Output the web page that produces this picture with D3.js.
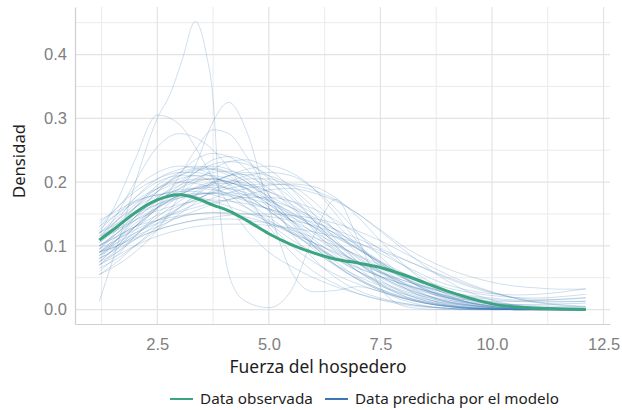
<!DOCTYPE html>
<html>
<head>
<meta charset="utf-8">
<script src="https://cdn.jsdelivr.net/npm/d3@7"></script>
<style>
  html, body { margin: 0; padding: 0; background: #ffffff; }
  svg { display: block; }
</style>
</head>
<body>
<svg id="chart" width="622" height="410"></svg>
<script>
// Shared evaluation grid for the density curves (Fuerza del hospedero)
const gridX = [1.2, 1.6, 2.0, 2.5, 3.0, 3.35, 3.75, 4.1, 4.5, 5.0, 5.5, 6.0, 6.5, 7.0, 7.5, 8.0, 8.5, 9.0, 9.5, 10.0, 10.5, 11.0, 11.5, 12.1];

// Density of the observed data
const observedY = [0.109, 0.130, 0.152, 0.172, 0.180, 0.175, 0.164, 0.155, 0.140, 0.119, 0.102, 0.089, 0.079, 0.073, 0.066, 0.055, 0.042, 0.029, 0.018, 0.009, 0.004, 0.002, 0.001, 0.000];

// Densities of datasets simulated from the model (one row per draw)
const predictedY = [
  [0.085,0.11,0.14,0.17,0.19,0.20,0.205,0.20,0.19,0.165,0.14,0.11,0.085,0.06,0.04,0.025,0.014,0.007,0.003,0.001,0,0,0,0],
  [0.12,0.145,0.17,0.19,0.20,0.198,0.19,0.18,0.16,0.135,0.11,0.09,0.07,0.052,0.037,0.025,0.016,0.01,0.006,0.003,0.001,0,0,0],
  [0.09,0.105,0.12,0.135,0.145,0.15,0.152,0.15,0.145,0.135,0.12,0.105,0.09,0.075,0.06,0.046,0.035,0.026,0.02,0.016,0.013,0.012,0.012,0.013],
  [0.075,0.1,0.13,0.16,0.18,0.19,0.195,0.19,0.178,0.155,0.13,0.105,0.08,0.06,0.042,0.028,0.017,0.009,0.004,0.002,0.001,0,0,0],
  [0.13,0.16,0.19,0.215,0.225,0.222,0.21,0.195,0.17,0.135,0.1,0.075,0.055,0.04,0.028,0.018,0.01,0.005,0.002,0.001,0,0,0,0],
  [0.1,0.12,0.14,0.16,0.175,0.18,0.183,0.18,0.175,0.165,0.15,0.13,0.105,0.08,0.057,0.038,0.023,0.013,0.007,0.003,0.001,0,0,0],
  [0.08,0.095,0.11,0.125,0.135,0.14,0.142,0.142,0.14,0.135,0.125,0.113,0.1,0.085,0.07,0.056,0.044,0.034,0.027,0.022,0.019,0.018,0.02,0.024],
  [0.11,0.14,0.175,0.205,0.22,0.225,0.22,0.21,0.19,0.16,0.125,0.095,0.068,0.047,0.03,0.018,0.01,0.005,0.002,0.001,0,0,0,0],
  [0.07,0.09,0.115,0.145,0.17,0.185,0.2,0.21,0.215,0.21,0.195,0.17,0.135,0.1,0.068,0.042,0.024,0.012,0.006,0.002,0.001,0,0,0],
  [0.14,0.155,0.17,0.18,0.185,0.185,0.18,0.172,0.16,0.14,0.12,0.1,0.082,0.066,0.052,0.04,0.03,0.022,0.016,0.011,0.008,0.006,0.005,0.004],
  [0.095,0.125,0.16,0.195,0.215,0.222,0.225,0.22,0.205,0.175,0.14,0.105,0.075,0.05,0.032,0.019,0.01,0.005,0.002,0.001,0,0,0,0],
  [0.06,0.085,0.115,0.15,0.18,0.2,0.22,0.232,0.235,0.22,0.19,0.15,0.11,0.075,0.047,0.027,0.014,0.007,0.003,0.001,0,0,0,0],
  [0.105,0.125,0.145,0.165,0.178,0.182,0.182,0.178,0.17,0.158,0.145,0.13,0.113,0.094,0.074,0.055,0.038,0.025,0.015,0.008,0.004,0.002,0.001,0],
  [0.09,0.11,0.135,0.16,0.18,0.19,0.197,0.198,0.195,0.185,0.17,0.15,0.125,0.098,0.072,0.05,0.032,0.019,0.01,0.005,0.002,0.001,0,0],
  [0.12,0.135,0.15,0.165,0.175,0.18,0.183,0.183,0.18,0.172,0.16,0.145,0.125,0.1,0.075,0.052,0.033,0.02,0.011,0.005,0.002,0.001,0,0],
  [0.085,0.1,0.12,0.14,0.155,0.165,0.175,0.183,0.19,0.195,0.197,0.193,0.175,0.145,0.108,0.072,0.043,0.023,0.011,0.005,0.002,0.001,0,0],
  [0.075,0.1,0.13,0.165,0.195,0.215,0.235,0.24,0.232,0.205,0.165,0.125,0.09,0.06,0.038,0.022,0.012,0.006,0.002,0.001,0,0,0,0],
  [0.1,0.115,0.13,0.14,0.147,0.15,0.152,0.152,0.15,0.146,0.14,0.132,0.12,0.105,0.088,0.07,0.053,0.039,0.03,0.025,0.023,0.024,0.027,0.033],
  [0.11,0.135,0.16,0.185,0.2,0.205,0.205,0.2,0.188,0.165,0.14,0.115,0.093,0.075,0.058,0.043,0.03,0.019,0.011,0.006,0.003,0.001,0,0],
  [0.13,0.15,0.168,0.18,0.182,0.178,0.17,0.162,0.152,0.138,0.122,0.105,0.088,0.072,0.058,0.046,0.036,0.028,0.022,0.018,0.015,0.014,0.013,0.013],
  [0.08,0.11,0.145,0.185,0.21,0.22,0.222,0.215,0.2,0.17,0.135,0.1,0.07,0.048,0.032,0.02,0.012,0.006,0.003,0.001,0,0,0,0],
  [0.095,0.11,0.125,0.14,0.153,0.16,0.168,0.173,0.176,0.176,0.17,0.158,0.14,0.118,0.094,0.07,0.048,0.03,0.017,0.009,0.004,0.002,0.001,0],
  [0.115,0.14,0.165,0.19,0.205,0.21,0.21,0.205,0.195,0.178,0.16,0.14,0.118,0.095,0.072,0.05,0.032,0.018,0.009,0.004,0.001,0,0,0],
  [0.055,0.075,0.1,0.13,0.16,0.18,0.2,0.21,0.212,0.2,0.175,0.14,0.105,0.075,0.052,0.035,0.023,0.015,0.01,0.007,0.005,0.004,0.003,0.002],
  [0.1,0.12,0.145,0.175,0.2,0.215,0.228,0.232,0.228,0.21,0.18,0.14,0.1,0.066,0.04,0.022,0.011,0.005,0.002,0.001,0,0,0,0],
  [0.125,0.15,0.175,0.2,0.21,0.21,0.2,0.188,0.17,0.145,0.12,0.098,0.08,0.065,0.052,0.04,0.03,0.021,0.014,0.009,0.006,0.004,0.003,0.002],
  [0.09,0.1,0.112,0.125,0.135,0.14,0.145,0.148,0.15,0.15,0.148,0.143,0.135,0.123,0.108,0.09,0.072,0.055,0.04,0.028,0.018,0.011,0.007,0.004],
  [0.105,0.13,0.16,0.19,0.21,0.218,0.22,0.214,0.2,0.175,0.147,0.12,0.095,0.072,0.052,0.035,0.022,0.013,0.007,0.003,0.001,0,0,0],
  [0.085,0.105,0.13,0.158,0.18,0.192,0.2,0.202,0.198,0.185,0.165,0.142,0.118,0.096,0.076,0.058,0.043,0.03,0.02,0.012,0.007,0.004,0.002,0.001],
  [0.07,0.095,0.125,0.16,0.19,0.205,0.215,0.217,0.21,0.19,0.16,0.128,0.098,0.072,0.05,0.033,0.02,0.011,0.005,0.002,0.001,0,0,0],
  [0.135,0.16,0.185,0.205,0.215,0.215,0.208,0.197,0.18,0.155,0.128,0.102,0.08,0.06,0.044,0.03,0.02,0.012,0.007,0.004,0.002,0.001,0,0],
  [0.1,0.115,0.13,0.148,0.163,0.173,0.183,0.19,0.195,0.197,0.195,0.187,0.172,0.15,0.123,0.095,0.068,0.045,0.027,0.015,0.007,0.003,0.001,0],
  [0.08,0.097,0.117,0.14,0.16,0.172,0.185,0.195,0.205,0.205,0.19,0.16,0.123,0.088,0.06,0.04,0.027,0.019,0.015,0.013,0.013,0.014,0.016,0.019],
  [0.12,0.14,0.16,0.178,0.188,0.19,0.188,0.182,0.172,0.157,0.14,0.122,0.103,0.084,0.066,0.05,0.036,0.025,0.016,0.01,0.006,0.003,0.002,0.001],
  [0.065,0.08,0.1,0.125,0.15,0.168,0.188,0.2,0.21,0.215,0.21,0.19,0.158,0.12,0.083,0.052,0.03,0.016,0.008,0.003,0.001,0,0,0],
  [0.095,0.12,0.15,0.185,0.215,0.235,0.245,0.24,0.22,0.18,0.138,0.1,0.07,0.047,0.03,0.018,0.01,0.005,0.002,0.001,0,0,0,0],
  [0.11,0.125,0.14,0.155,0.165,0.17,0.172,0.17,0.166,0.158,0.148,0.137,0.125,0.111,0.096,0.08,0.064,0.049,0.036,0.026,0.019,0.016,0.016,0.018],
  [0.09,0.115,0.145,0.175,0.195,0.203,0.205,0.2,0.19,0.172,0.153,0.134,0.115,0.095,0.074,0.053,0.035,0.021,0.011,0.005,0.002,0.001,0,0],
  [0.075,0.09,0.11,0.135,0.16,0.178,0.197,0.21,0.22,0.225,0.215,0.19,0.15,0.105,0.065,0.036,0.018,0.008,0.003,0.001,0,0,0,0],
  [0.115,0.13,0.15,0.17,0.185,0.19,0.192,0.19,0.183,0.17,0.152,0.13,0.106,0.082,0.06,0.042,0.028,0.018,0.012,0.009,0.008,0.008,0.009,0.01],
  [0.07,0.085,0.1,0.115,0.125,0.13,0.133,0.134,0.134,0.132,0.128,0.122,0.114,0.104,0.092,0.079,0.065,0.051,0.038,0.027,0.018,0.012,0.008,0.005],
  [0.09,0.1,0.115,0.13,0.145,0.155,0.165,0.172,0.18,0.188,0.19,0.183,0.17,0.15,0.125,0.1,0.08,0.064,0.052,0.043,0.037,0.034,0.032,0.032],
  [0.12,0.17,0.235,0.305,0.29,0.255,0.205,0.165,0.125,0.09,0.068,0.05,0.036,0.025,0.016,0.01,0.005,0.002,0.001,0,0,0,0,0],
  [0.055,0.07,0.09,0.125,0.18,0.225,0.295,0.325,0.28,0.16,0.06,0.028,0.03,0.036,0.028,0.015,0.006,0.002,0,0,0,0,0,0],
  [0.09,0.11,0.13,0.16,0.21,0.25,0.282,0.276,0.24,0.18,0.12,0.08,0.05,0.03,0.018,0.01,0.005,0.002,0,0,0,0,0,0],
  [0.11,0.15,0.2,0.255,0.276,0.27,0.25,0.222,0.18,0.13,0.09,0.06,0.04,0.025,0.015,0.008,0.004,0.002,0.001,0,0,0,0,0]
];

// One simulated draw with a sharp, multi-modal density on its own grid
const spikeX = [1.2, 1.6, 2.0, 2.5, 2.8, 3.05, 3.35, 3.6, 3.75, 3.9, 4.15, 4.5, 5.0, 5.5, 6.0, 6.5, 7.0, 7.5, 8.0, 8.5, 9.0, 12.1];
const spikeY = [0.013, 0.1, 0.197, 0.3, 0.34, 0.39, 0.452, 0.40, 0.33, 0.16, 0.045, 0.012, 0.003, 0.03, 0.115, 0.173, 0.11, 0.035, 0.006, 0.001, 0, 0];

// Axis ticks and labels
const xTicks = [2.5, 5.0, 7.5, 10.0, 12.5];
const xMinor = [1.25, 3.75, 6.25, 8.75, 11.25];
const yTicks = [0.0, 0.1, 0.2, 0.3, 0.4];
const yMinor = [0.05, 0.15, 0.25, 0.35, 0.45];
const xTitle = "Fuerza del hospedero";
const yTitle = "Densidad";
const legendItems = [
  { label: "Data observada", color: "#3aa57f" },
  { label: "Data predicha por el modelo", color: "#3d77b3" }
];

const W = 622, H = 410;
const margin = { top: 7, right: 12, bottom: 86, left: 75 };
const svg = d3.select("#chart");
const textFont = "'Noto Sans', 'Open Sans', sans-serif";

const x = d3.scaleLinear().domain([0.655, 12.645]).range([margin.left, W - margin.right]);
const y = d3.scaleLinear().domain([-0.0226, 0.4746]).range([H - margin.bottom, margin.top]);

const x0 = margin.left, x1 = W - margin.right, y0 = H - margin.bottom, y1 = margin.top;

// Sizes a text element so that its rendered width equals `width`
function fitText(sel, width) {
  sel.style("font-size", "100px");
  const w = sel.node().getComputedTextLength();
  sel.style("font-size", (100 * width / w).toFixed(2) + "px");
  return sel;
}

// Grid
const grid = svg.append("g");
grid.selectAll(".vminor").data(xMinor).join("line")
  .attr("x1", d => x(d)).attr("x2", d => x(d)).attr("y1", y0).attr("y2", y1)
  .attr("stroke", "#ebebeb").attr("stroke-width", 1);
grid.selectAll(".hminor").data(yMinor).join("line")
  .attr("x1", x0).attr("x2", x1).attr("y1", d => y(d)).attr("y2", d => y(d))
  .attr("stroke", "#ebebeb").attr("stroke-width", 1);
grid.selectAll(".vmajor").data(xTicks).join("line")
  .attr("x1", d => x(d)).attr("x2", d => x(d)).attr("y1", y0).attr("y2", y1)
  .attr("stroke", "#e3e3e3").attr("stroke-width", 1.2);
grid.selectAll(".hmajor").data(yTicks).join("line")
  .attr("x1", x0).attr("x2", x1).attr("y1", d => y(d)).attr("y2", d => y(d))
  .attr("stroke", "#e3e3e3").attr("stroke-width", 1.2);

// Density lines
const line = d3.line()
  .x(d => x(d[0]))
  .y(d => y(d[1]))
  .curve(d3.curveMonotoneX);

const reps = predictedY.map(row => row.map((v, i) => [gridX[i], v]));
reps.push(spikeX.map((v, i) => [v, spikeY[i]]));

svg.append("g").selectAll("path").data(reps).join("path")
  .attr("d", line)
  .attr("fill", "none")
  .attr("stroke", "#3f7cb8")
  .attr("stroke-opacity", 0.28)
  .attr("stroke-width", 0.9);

svg.append("path")
  .datum(observedY.map((v, i) => [gridX[i], v]))
  .attr("d", line)
  .attr("fill", "none")
  .attr("stroke", "#3aa57f")
  .attr("stroke-width", 3)
  .attr("stroke-linejoin", "round");

// Axes
const axisColor = "#cfcfcf";
const xAxis = svg.append("g").attr("transform", `translate(0,${y0})`)
  .call(d3.axisBottom(x).tickValues(xTicks).tickFormat(d3.format(".1f")).tickSize(0).tickPadding(14));
const yAxis = svg.append("g").attr("transform", `translate(${x0},0)`)
  .call(d3.axisLeft(y).tickValues(yTicks).tickFormat(d3.format(".1f")).tickSize(0).tickPadding(8));
[xAxis, yAxis].forEach(g => {
  g.select(".domain").attr("stroke", axisColor).attr("stroke-width", 1.2);
  g.selectAll("text")
    .attr("fill", "#7f7f7f")
    .style("font-family", "'Liberation Sans', Arial, sans-serif")
    .style("font-size", "16.5px");
});

// Axis titles
const xt = svg.append("text")
  .attr("x", 318).attr("y", 373)
  .attr("text-anchor", "middle")
  .style("font-family", textFont)
  .attr("fill", "#1e1e1e")
  .text(xTitle);
fitText(xt, 177);

const yt = svg.append("text")
  .attr("transform", `translate(25,161) rotate(-90)`)
  .attr("text-anchor", "middle")
  .style("font-family", textFont)
  .attr("fill", "#1e1e1e")
  .text(yTitle);
fitText(yt, 74);

// Legend
const legendX = [170, 325];
const legendW = [113, 204];
const legend = svg.append("g");
legendItems.forEach((item, i) => {
  const g = legend.append("g").attr("transform", `translate(${legendX[i]},399)`);
  g.append("line").attr("x1", 0).attr("x2", 23).attr("y1", 0).attr("y2", 0)
    .attr("stroke", item.color).attr("stroke-width", 2);
  const t = g.append("text").attr("x", 30).attr("y", 4.5)
    .style("font-family", textFont)
    .attr("fill", "#1e1e1e")
    .text(item.label);
  fitText(t, legendW[i]);
});
</script>
</body>
</html>
